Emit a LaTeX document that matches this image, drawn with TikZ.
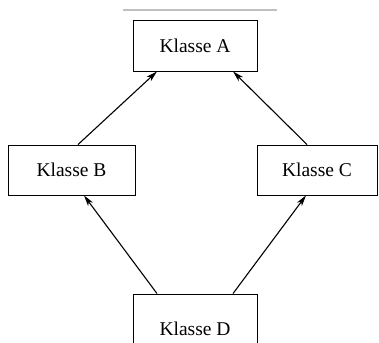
\documentclass[tikz,border=0pt]{standalone}
\usepackage{fontspec}
\setmainfont{Liberation Serif}
\usetikzlibrary{calc,arrows.meta}
\tikzset{
  klasse/.style={draw=black, line width=0.9pt, rectangle, minimum width=124pt, minimum height=51pt, inner sep=0pt, font=\fontsize{19.5}{22}\selectfont},
  erbt/.style={draw=black, line width=1.1pt, -{Stealth[length=11pt,width=6pt,inset=3pt]}},
  trenn/.style={draw=black!25, line width=1.6pt}
}
\begin{document}
\begin{tikzpicture}[x=1pt,y=-1pt]
\useasboundingbox (0,0) rectangle (379,342);
\clip (0,0) rectangle (379,342);
\coordinate (l1) at (123,10);
\coordinate (l2) at (277,10);
\draw[trenn] (l1) -- (l2);
\node[klasse] (A) at (195,45.5) {Klasse A};
\node[klasse, minimum width=127pt, minimum height=50pt] (B) at (71.5,170) {Klasse B};
\node[klasse, minimum width=120pt, minimum height=50pt] (C) at (317,170) {Klasse C};
\node[klasse, minimum height=70pt] (D) at (195,329) {Klasse D};
\draw[erbt] ($(B.north)+(6.5,0)$) -- ($(A.south)+(-38,0)$);
\draw[erbt] ($(C.north)+(-10,0)$) -- ($(A.south)+(38,0)$);
\draw[erbt] ($(D.north)+(-38,0)$) -- ($(B.south)+(12.5,0)$);
\draw[erbt] ($(D.north)+(38,0)$) -- ($(C.south)+(-11,0)$);
\end{tikzpicture}
\end{document}
